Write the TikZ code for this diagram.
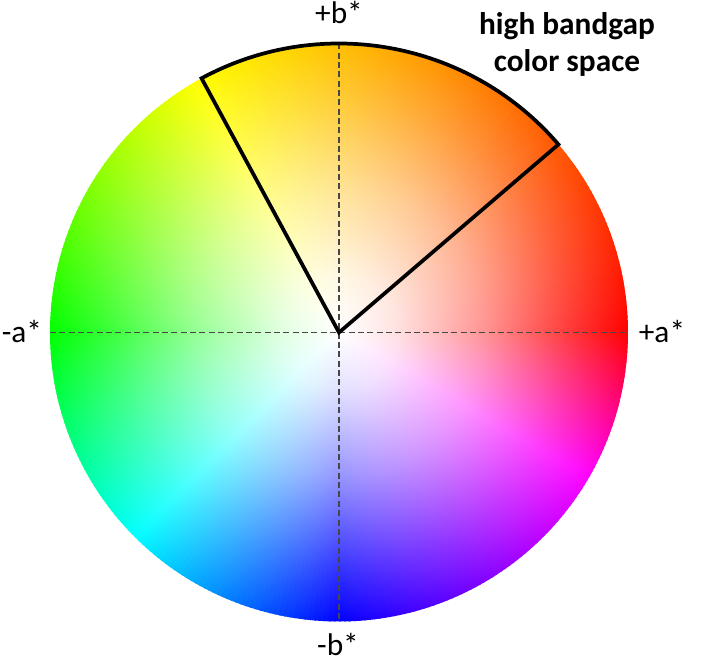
\documentclass[tikz,border=0pt]{standalone}
\usepackage{fontspec}
\setmainfont{Carlito}
\usetikzlibrary{fadings}
\pgfdeclareradialshading{wfshade}{\pgfpointorigin}{color(0bp)=(white); color(5bp)=(white!88!black); color(12.5bp)=(white!58!black); color(20bp)=(white!22!black); color(25bp)=(black); color(50bp)=(black)}
\pgfdeclarefading{wf}{\pgfuseshading{wfshade}}
\tikzset{
  axis/.style={draw=black!72, line width=1.3pt, dash pattern=on 4.5pt off 2.5pt},
  sector/.style={draw=black, line width=2.8pt, line join=miter},
  lab/.style={font=\fontsize{23.5}{28}\selectfont, inner sep=0pt, anchor=base},
}
\begin{document}
\begin{tikzpicture}[x=0.75pt,y=0.75pt]
\useasboundingbox (0,0) rectangle (704,665);
\fill[white] (0,0) rectangle (704,665);
\coordinate (C) at (339,332.5);
\def\R{289}
% hue wedges
\foreach \a in {0,...,359}{
  \pgfmathsetmacro{\t}{\a+0.5}
  \pgfmathsetmacro{\h}{\t<120 ? \t/2 : (\t<180 ? \t-60 : (\t<270 ? 120+(\t-180)*4/3 : (\t<330 ? \t-30 : 300+2*(\t-330))))}
  \definecolor{hc}{Hsb}{\h,1,1}
  \fill[hc] (C) -- ([shift={(C)}]\a:\R) arc[start angle=\a, end angle=\a+1.4, radius=\R] -- cycle;
}
% white center
\fill[white, path fading=wf] (C) circle (\R);
% axes
\coordinate (L) at ([shift={(C)}]180:\R);
\coordinate (Rt) at ([shift={(C)}]0:\R);
\coordinate (T) at ([shift={(C)}]90:\R);
\coordinate (B) at ([shift={(C)}]270:\R);
\draw[axis] (L) -- (Rt);
\draw[axis] (T) -- (B);
% sector
\coordinate (S1) at ([shift={(C)}]118.4:\R);
\draw[sector] (C) -- (S1) arc[start angle=118.4, end angle=40.6, radius=\R] -- cycle;
% labels
\node[lab] (pb) at (339,641) {+b*};
\node[lab] (mb) at (338,10) {-b*};
\node[lab] (ma) at (22,322) {-a*};
\node[lab] (pa) at (662,322) {+a*};
\node[lab, font=\fontsize{23.5}{28}\selectfont\bfseries] (hb) at (567,630) {high bandgap};
\node[lab, font=\fontsize{23.5}{28}\selectfont\bfseries] (cs) at (567,593) {color space};
\end{tikzpicture}
\end{document}
